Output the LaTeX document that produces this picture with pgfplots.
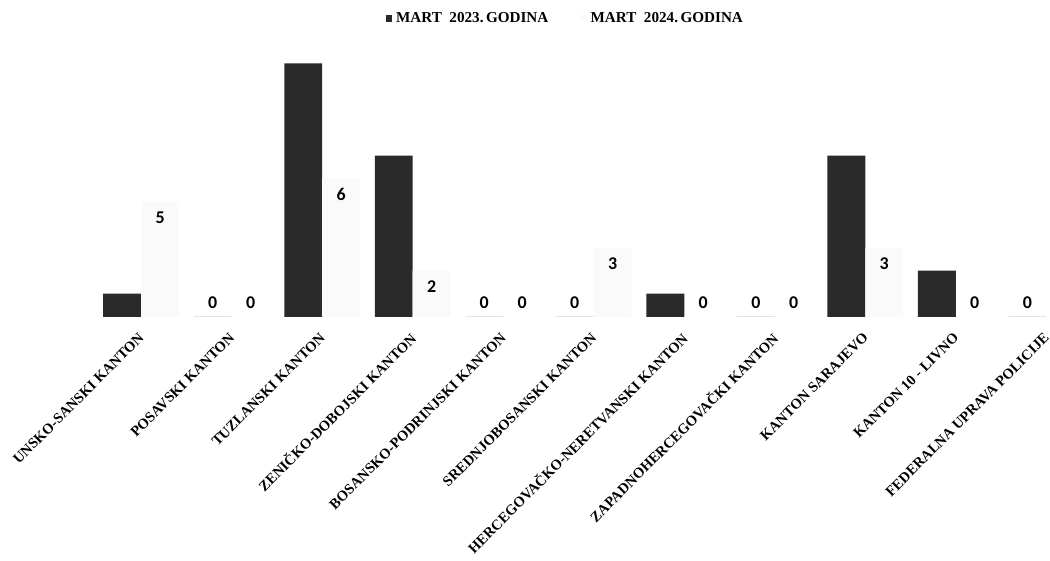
\documentclass[border=0pt]{standalone}
\usepackage{fontspec}
\setmainfont{Liberation Serif}
\newfontfamily\numfont{Carlito}
\usepackage{pgfplots}
\pgfplotsset{compat=1.18}
\definecolor{bar23}{HTML}{2A2A2A}
\definecolor{bar24}{HTML}{FAFAFA}
\pgfplotsset{smallsq/.style={legend image code/.code={\fill[#1] (0pt,-1.6pt) rectangle (3.2pt,1.6pt);}}}
\begin{document}
\begin{tikzpicture}
\begin{axis}[
  scale only axis, width=476.7pt, height=138.6pt,
  ybar=0pt, bar width=19pt,
  xmin=-0.5, xmax=10, ymin=0, ymax=12,
  axis line style={draw=none},
  ytick=\empty,
  xtick={0,...,10},
  xticklabels={UNSKO-SANSKI KANTON, POSAVSKI KANTON, TUZLANSKI KANTON, ZENIČKO-DOBOJSKI KANTON, BOSANSKO-PODRINJSKI KANTON, SREDNJOBOSANSKI KANTON, HERCEGOVAČKO-NERETVANSKI KANTON, ZAPADNOHERCEGOVAČKI KANTON, KANTON SARAJEVO, KANTON 10 - LIVNO, FEDERALNA UPRAVA POLICIJE},
  major tick length=0pt,
  xticklabel style={font=\fontsize{7.3}{9}\selectfont\bfseries, xshift=-4pt, rotate=45, anchor=east, inner sep=0pt, xshift=-3.5pt, yshift=-9.5pt},
  legend columns=2,
  legend style={at={(0.495,1)}, anchor=center, yshift=11pt, draw=none, fill=none,
    font=\fontsize{7.6}{9}\selectfont\bfseries,
    /tikz/every even column/.append style={column sep=14pt}},
  smallsq,
  /pgf/number format/assume math mode=true,
  visualization depends on={y \as \rawy},
  every node near coord/.append style={font=\numfont\bfseries\fontsize{9}{10}\selectfont, anchor=center, yshift={(\rawy==0)*15-8}},
  clip=false,
]
\addplot[fill=bar23, draw=none, bar shift=-9.5pt,
  nodes near coords={\pgfmathparse{\rawy==0}\ifdim\pgfmathresult pt>0.5pt 0\fi}]
  coordinates {(0,1) (1,0) (2,11) (3,7) (4,0) (5,0) (6,1) (7,0) (8,7) (9,2) (10,0)};
\addlegendentry{MART\enspace 2023.\,GODINA}
\addplot[fill=bar24, draw=none, bar shift=9.5pt, nodes near coords]
  coordinates {(0,5) (1,0) (2,6) (3,2) (4,0) (5,3) (6,0) (7,0) (8,3) (9,0)};
\addlegendentry{MART\enspace 2024.\,GODINA}
\end{axis}
\path (current bounding box.south west) ++(-6pt,-3pt);
\path (current bounding box.north east) ++(0pt,2pt);
\end{tikzpicture}
\end{document}
